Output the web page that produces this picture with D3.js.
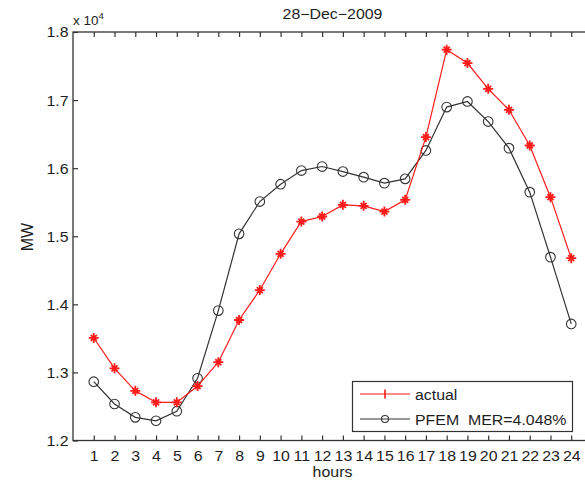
<!DOCTYPE html>
<html>
<head>
<meta charset="utf-8">
<script src="https://cdn.jsdelivr.net/npm/d3@7"></script>
<style>
  body { margin: 0; background: #fff; }
  svg { display: block; font-family: "Liberation Sans", Arial, sans-serif; }
</style>
</head>
<body>
<svg id="chart" width="585" height="482"></svg>
<script>
// Hourly load, 28-Dec-2009 (MW)
const hours = d3.range(1, 25);
const actual = [13506, 13060, 12730, 12560, 12560, 12800, 13150, 13770, 14210, 14742,
                15216, 15290, 15461, 15447, 15363, 15535, 16456, 17740, 17544, 17165,
                16857, 16333, 15574, 14678];
const pfem = [12864, 12536, 12340, 12290, 12430, 12914, 13908, 15035, 15510, 15765,
              15965, 16024, 15950, 15868, 15780, 15843, 16260, 16897, 16980, 16685,
              16294, 15648, 14693, 13712];
const yTicks = [1.2, 1.3, 1.4, 1.5, 1.6, 1.7, 1.8];
const seriesNames = ["actual", "PFEM  MER=4.048%"];

const svg = d3.select("#chart");
const m = { left: 73, top: 32, right: 592, bottom: 440.5 };

const x = d3.scaleLinear().domain([0, 25]).range([m.left, m.right]);
const y = d3.scaleLinear().domain([12000, 18000]).range([m.bottom, m.top]);

const axisColor = "#333";
const textColor = "#1e1e1e";
const FS = 14.2;   // font size
const SX = 1.12;   // horizontal glyph stretch

// place a text label at (px, py) with the stretched glyph style
function label(parent, px, py, str, anchor, size) {
  return parent.append("text")
    .attr("transform", `translate(${px},${py}) scale(${SX},1)`)
    .attr("text-anchor", anchor || "start")
    .attr("fill", textColor).attr("font-size", size || FS)
    .text(str);
}

// axes box
svg.append("rect")
  .attr("x", m.left).attr("y", m.top)
  .attr("width", m.right - m.left).attr("height", m.bottom - m.top)
  .attr("fill", "none").attr("stroke", axisColor).attr("stroke-width", 1.3);

// bottom and top axes with inward ticks
const xAxisB = d3.axisBottom(x).tickValues(hours).tickSizeInner(-5).tickSizeOuter(0);
const gxb = svg.append("g").attr("transform", `translate(0,${m.bottom})`).call(xAxisB);
const xAxisT = d3.axisTop(x).tickValues(hours).tickSizeInner(-5).tickSizeOuter(0).tickFormat("");
const gxt = svg.append("g").attr("transform", `translate(0,${m.top})`).call(xAxisT);

// left and right axes
const yAxisL = d3.axisLeft(y).tickValues(yTicks.map(v => v * 1e4)).tickSizeInner(-5).tickSizeOuter(0)
  .tickFormat(v => d3.format(".1f")(v / 1e4));
const gyl = svg.append("g").attr("transform", `translate(${m.left},0)`).call(yAxisL);
const yAxisR = d3.axisRight(y).tickValues(yTicks.map(v => v * 1e4)).tickSizeInner(-5).tickSizeOuter(0).tickFormat("");
const gyr = svg.append("g").attr("transform", `translate(${m.right},0)`).call(yAxisR);

[gxb, gxt, gyl, gyr].forEach(g => {
  g.select(".domain").remove();
  g.selectAll(".tick line").attr("stroke", axisColor).attr("stroke-width", 1.2);
  g.selectAll(".tick text").attr("fill", textColor).attr("font-size", FS)
    .attr("font-family", "Liberation Sans, Arial, sans-serif")
    .attr("x", 0).attr("y", 0).attr("dy", null);
});
gxb.selectAll(".tick text").attr("transform", `translate(0,20.5) scale(${SX},1)`);
gyl.selectAll(".tick text").attr("text-anchor", "end").attr("dy", "0.35em")
  .attr("transform", `translate(-4.5,0) scale(${SX},1)`);

// exponent label
const expo = label(svg, m.left, 24.5, "", "start", 12);
expo.append("tspan").text("x 10");
expo.append("tspan").attr("dy", -6).attr("font-size", 8.5).text("4");

// title
label(svg, (m.left + m.right) / 2, 18.5, "28\u2212Dec\u22122009", "middle");

// axis labels
label(svg, (m.left + m.right) / 2, 477, "hours", "middle");
svg.append("text").attr("transform", "translate(33,237) rotate(-90)")
  .attr("text-anchor", "middle").attr("fill", textColor).attr("font-size", 16)
  .text("MW");

const redColor = "#ff1a1a";
const blackColor = "#333";

const line = d3.line().x((d, i) => x(hours[i])).y(d => y(d));

// forecast line (black, circles)
svg.append("path").datum(pfem).attr("d", line)
  .attr("fill", "none").attr("stroke", blackColor).attr("stroke-width", 1.2);
svg.append("g").selectAll("circle").data(pfem).join("circle")
  .attr("cx", (d, i) => x(hours[i])).attr("cy", d => y(d)).attr("r", 4.8)
  .attr("fill", "none").attr("stroke", blackColor).attr("stroke-width", 1.1);

// actual line (red, asterisks)
svg.append("path").datum(actual).attr("d", line)
  .attr("fill", "none").attr("stroke", redColor).attr("stroke-width", 1.2);

function asterisk(g, cx, cy, r) {
  const d = r * 0.6;
  g.append("path")
    .attr("d", `M${cx - r},${cy}H${cx + r}M${cx},${cy - r}V${cy + r}` +
               `M${cx - d},${cy - d}L${cx + d},${cy + d}M${cx - d},${cy + d}L${cx + d},${cy - d}`)
    .attr("stroke", redColor).attr("stroke-width", 1.8).attr("fill", "none");
}
const stars = svg.append("g");
actual.forEach((v, i) => asterisk(stars, x(hours[i]), y(v), 5));

// legend
const lg = svg.append("g");
lg.append("rect").attr("x", 352.5).attr("y", 381.5).attr("width", 220).attr("height", 50)
  .attr("fill", "#fff").attr("stroke", axisColor).attr("stroke-width", 1.2);
const rows = [
  { name: seriesNames[0], color: redColor, yy: 394 },
  { name: seriesNames[1], color: blackColor, yy: 419 }
];
rows.forEach((r, k) => {
  lg.append("line").attr("x1", 360).attr("x2", 410).attr("y1", r.yy).attr("y2", r.yy)
    .attr("stroke", r.color).attr("stroke-width", 1.2);
  if (k === 0) {
    lg.append("path").attr("d", `M385,${r.yy - 4.5}V${r.yy + 4.5}`)
      .attr("stroke", r.color).attr("stroke-width", 1.6);
  } else {
    lg.append("circle").attr("cx", 385).attr("cy", r.yy).attr("r", 3.5)
      .attr("fill", "none").attr("stroke", r.color).attr("stroke-width", 1.1);
  }
  label(lg, 415, r.yy + 5.5, r.name).style("white-space", "pre");
});
</script>
</body>
</html>
